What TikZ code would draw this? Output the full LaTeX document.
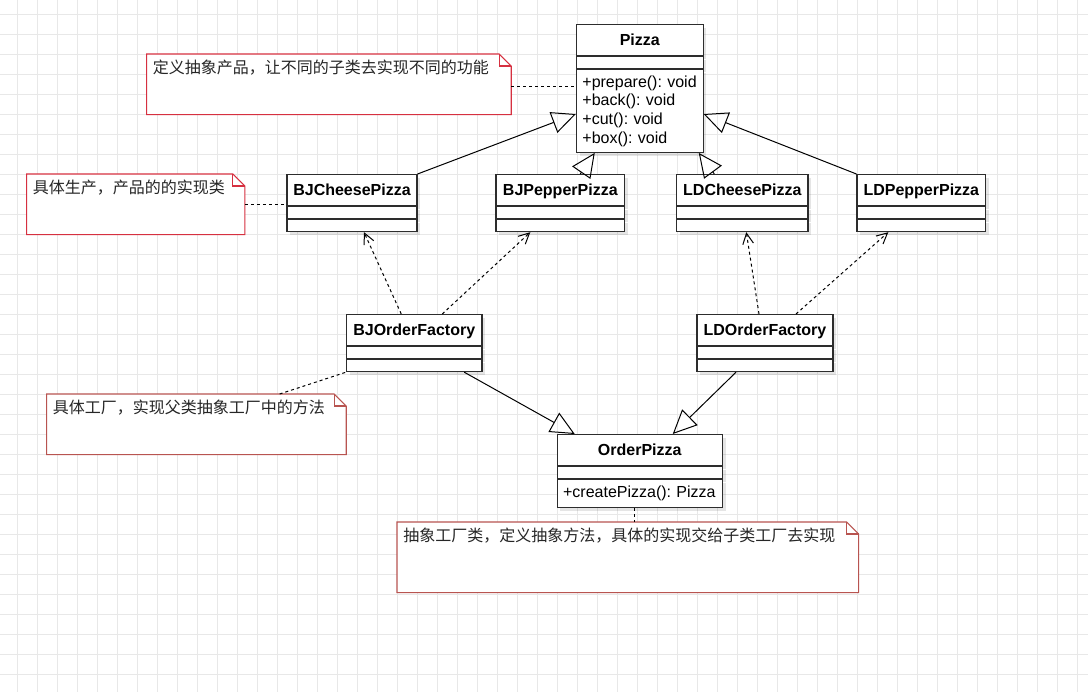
\documentclass[tikz,border=0pt]{standalone}
\usepackage{fontspec}
\setmainfont{Liberation Sans}
\newfontfamily\cjk{Noto Sans CJK SC}
\usetikzlibrary{arrows.meta,shadows}
\definecolor{umlline}{RGB}{45,45,45}
\definecolor{notered}{RGB}{214,48,64}
\definecolor{notebrown}{RGB}{184,84,80}
\definecolor{gridgray}{RGB}{232,232,232}
\tikzset{classbase/.style = {draw=umlline, fill=white, line width=0.8pt, rectangle, anchor=north, drop shadow={shadow xshift=2.5pt, shadow yshift=-2.5pt, fill=black, opacity=0.10}},
         classhead/.style = {classbase, inner sep=0pt, minimum height=23.25pt, text height=8.6pt, text depth=0pt, font=\bfseries\fontsize{12}{14}\selectfont},
         classpart/.style = {classbase, inner sep=0pt, minimum height=9pt},
         classops/.style = {classbase, inner xsep=4.5pt, inner ysep=0pt, align=left, font=\fontsize{12}{14}\selectfont},
         notebox/.style = {rectangle, anchor=north west, inner xsep=4.5pt, inner ysep=4.25pt, text height=10pt, align=left, text=black!85, font=\cjk\fontsize{12}{14}\selectfont,
             append after command={\pgfextra{\draw[draw=#1, fill=white, line width=0.8pt] (\tikzlastnode.north west)--([xshift=-9pt]\tikzlastnode.north east)--([yshift=-9pt]\tikzlastnode.north east)--(\tikzlastnode.south east)--(\tikzlastnode.south west)--cycle;
                 \draw[draw=#1, line width=0.8pt] ([xshift=-9pt]\tikzlastnode.north east)|-([yshift=-9pt]\tikzlastnode.north east);}}},
         inherit/.style = {-{Triangle[open, length=18pt, width=16.5pt]}, line width=0.75pt},
         depend/.style = {-{Straight Barb[length=8pt, width=8pt]}, line width=0.75pt, dash pattern=on 2.25pt off 2.25pt},
         notelink/.style = {line width=0.75pt, dash pattern=on 2.25pt off 2.25pt}}
\begin{document}
\begin{tikzpicture}[x={(0.75pt,0)}, y={(0,-0.75pt)}]
    \useasboundingbox[fill=white](0,0) rectangle (1088,692);
    \foreach \gx in {17.5,37.5,...,1087.5} \draw[gridgray, line width=0.6pt](\gx,0)--(\gx,692);
    \foreach \gy in {14,34,...,690} \draw[gridgray, line width=0.6pt](0,\gy)--(1088,\gy);

    \node[classhead, minimum width=95pt](pizza)at(639.75,24){Pizza};
    \node[classpart, minimum width=95pt](pizzaattr)at(pizza.south){};
    \node[classops, text width=86pt, minimum height=62pt](pizzaops)at(pizzaattr.south){+prepare():~void\\+back():~void\\+cut():~void\\+box():~void};

    \node[classhead, minimum width=97.5pt](bjcheese)at(352,174){BJCheesePizza};
    \node[classpart, minimum width=97.5pt](bjcheeseattr)at(bjcheese.south){};
    \node[classpart, minimum width=97.5pt](bjcheeseops)at(bjcheeseattr.south){};

    \node[classhead, minimum width=96.5pt](bjpepper)at(560.3,174){BJPepperPizza};
    \node[classpart, minimum width=96.5pt](bjpepperattr)at(bjpepper.south){};
    \node[classpart, minimum width=96.5pt](bjpepperops)at(bjpepperattr.south){};

    \node[classhead, minimum width=98.5pt](ldcheese)at(742.3,174){LDCheesePizza};
    \node[classpart, minimum width=98.5pt](ldcheeseattr)at(ldcheese.south){};
    \node[classpart, minimum width=98.5pt](ldcheeseops)at(ldcheeseattr.south){};

    \node[classhead, minimum width=96.5pt](ldpepper)at(921.3,174){LDPepperPizza};
    \node[classpart, minimum width=96.5pt](ldpepperattr)at(ldpepper.south){};
    \node[classpart, minimum width=96.5pt](ldpepperops)at(ldpepperattr.south){};

    \node[classhead, minimum width=101.6pt](bjorder)at(414.25,314){BJOrderFactory};
    \node[classpart, minimum width=101.6pt](bjorderattr)at(bjorder.south){};
    \node[classpart, minimum width=101.6pt](bjorderops)at(bjorderattr.south){};

    \node[classhead, minimum width=102pt](ldorder)at(765,314){LDOrderFactory};
    \node[classpart, minimum width=102pt](ldorderattr)at(ldorder.south){};
    \node[classpart, minimum width=102pt](ldorderops)at(ldorderattr.south){};

    \node[classhead, minimum width=124pt](order)at(639.75,434){OrderPizza};
    \node[classpart, minimum width=124pt](orderattr)at(order.south){};
    \node[classops, text width=115pt, minimum height=20.7pt](orderops)at(orderattr.south){+createPizza():~Pizza};

    \node[notebox=notered, text width=264pt, text depth=26.5pt](notepizza)at(146.7,54){定义抽象产品，让不同的子类去实现不同的功能};
    \node[notebox=notered, text width=154.2pt, text depth=26.5pt](notebjcheese)at(26.7,174){具体生产，产品的的实现类};
    \node[notebox=notebrown, text width=215.25pt, text depth=26.5pt](notebjorder)at(46.7,394){具体工厂，实现父类抽象工厂中的方法};
    \node[notebox=notebrown, text width=336.75pt, text depth=34pt](noteorder)at(397,522){抽象工厂类，定义抽象方法，具体的实现交给子类工厂去实现};

    \draw[notelink]([yshift=-2pt]notepizza.east)--([yshift=-2pt]notepizza.east -| pizza.west);
    \draw[notelink](notebjcheese.east)--(notebjcheese.east -| bjcheese.west);
    \draw[notelink](notebjorder.20)--(bjorderops.south west);
    \draw[notelink]([xshift=-4.3pt]orderops.south)--([xshift=-4.3pt]orderops.south |- noteorder.north);

    \draw[inherit](bjcheese.north east)--([shift={(0,3)}]pizzaops.west);
    \draw[inherit]([shift={(20,0)}]bjpepper.north)--([shift={(-45,0)}]pizzaops.south);
    \draw[inherit]([shift={(-28,0)}]ldcheese.north)--([shift={(59,0)}]pizzaops.south);
    \draw[inherit](ldpepper.north west)--([shift={(0,3)}]pizzaops.east);
    \draw[inherit]([shift={(50,0)}]bjorderops.south)--([shift={(-65,0)}]order.north);
    \draw[inherit]([shift={(-29,0)}]ldorderops.south)--([shift={(33,0)}]order.north);

    \draw[depend]([shift={(-13,0)}]bjorder.north)--([shift={(12,0)}]bjcheeseops.south);
    \draw[depend]([shift={(28,0)}]bjorder.north)--([shift={(-30,0)}]bjpepperops.south);
    \draw[depend]([shift={(-6,0)}]ldorder.north)--([shift={(4,0)}]ldcheeseops.south);
    \draw[depend]([shift={(31,0)}]ldorder.north)--([shift={(-33,0)}]ldpepperops.south);
\end{tikzpicture}
\end{document}
